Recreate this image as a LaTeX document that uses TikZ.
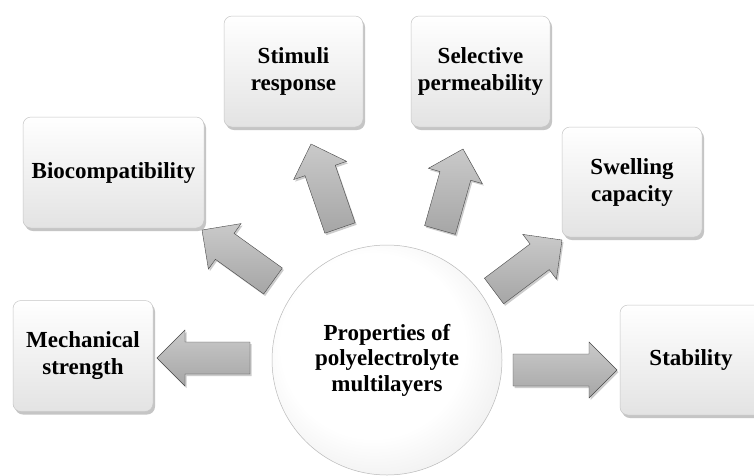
\documentclass[tikz,border=0pt]{standalone}
\usepackage{fontspec}
\setmainfont{Liberation Serif}
\usetikzlibrary{calc,shadows}
\pgfdeclareradialshading{hubsph}{\pgfpoint{-5bp}{5bp}}{color(0bp)=(white); color(20bp)=(white); color(36bp)=(black!10); color(46bp)=(black!25); color(52bp)=(black!45)}
\newcommand\blockarrow[2]{%
  \coordinate (#1hb) at ($(#2)!28pt!(#1)$);
  \path[arrowfill] ($(#1)!16pt!90:(#2)$) -- ($(#1hb)!16pt!90:(#2)$) -- ($(#1hb)!28pt!90:(#2)$) -- (#2)
    -- ($(#1hb)!28pt!-90:(#2)$) -- ($(#1hb)!16pt!-90:(#2)$) -- ($(#1)!16pt!-90:(#2)$) -- cycle;}
\begin{document}
\begin{tikzpicture}[x=1pt,y=-1pt,
  txt/.style={font=\fontsize{23}{27}\selectfont\bfseries, align=center, text=black},
  box/.style={txt, draw=gray!45, line width=0.5pt, rounded corners=8pt, top color=white, bottom color=gray!22,
    minimum height=111pt, inner sep=2pt,
    drop shadow={shadow xshift=2pt, shadow yshift=-3pt, opacity=0.35, fill=gray!70!black}},
  arrowfill/.style={draw=gray!55!black, line width=0.4pt, top color=gray!42, bottom color=gray!70,
    drop shadow={shadow xshift=1.5pt, shadow yshift=-2pt, opacity=0.3, fill=gray!70!black}},
  hub/.style={txt, font=\fontsize{23}{25.5}\selectfont\bfseries, circle, draw=gray!55, line width=0.5pt,
    minimum size=230pt, inner sep=0pt}]
\useasboundingbox (0,0) rectangle (754,475);
\clip (0,0) rectangle (754,475);
\fill[white] (0,0) rectangle (754,475);

\node[box, minimum width=139pt] (stim) at (293.5,71.5) {Stimuli\\response};
\node[box, minimum width=139pt] (sel) at (480.5,71.5) {Selective\\permeability};
\node[box, minimum width=181pt] (bio) at (113.5,172.5) {Biocompatibility};
\node[box, minimum width=140pt, minimum height=110pt] (swell) at (632,182) {Swelling\\capacity};
\node[box, minimum width=140pt] (mech) at (83,356) {Mechanical\\strength};
\node[box, minimum width=142pt, minimum height=110pt] (stab) at (691,360) {Stability};

\shade[shading=hubsph] (387,360) circle (115pt);
\node[hub] (hubn) at (387,360) {Properties of\\polyelectrolyte\\multilayers};

\coordinate (tmech) at (250,358);  \coordinate (hmech) at (157,358);
\coordinate (tstab) at (513,370);  \coordinate (hstab) at (617,370);
\coordinate (tbio) at (273,281);   \coordinate (hbio) at (202,230);
\coordinate (tstim) at (340,228);  \coordinate (hstim) at (311,144);
\coordinate (tsel) at (440,230);   \coordinate (hsel) at (463,149);
\coordinate (tswell) at (494,291); \coordinate (hswell) at (562,240);

\blockarrow{tmech}{hmech}
\blockarrow{tstab}{hstab}
\blockarrow{tbio}{hbio}
\blockarrow{tstim}{hstim}
\blockarrow{tsel}{hsel}
\blockarrow{tswell}{hswell}
\end{tikzpicture}
\end{document}
